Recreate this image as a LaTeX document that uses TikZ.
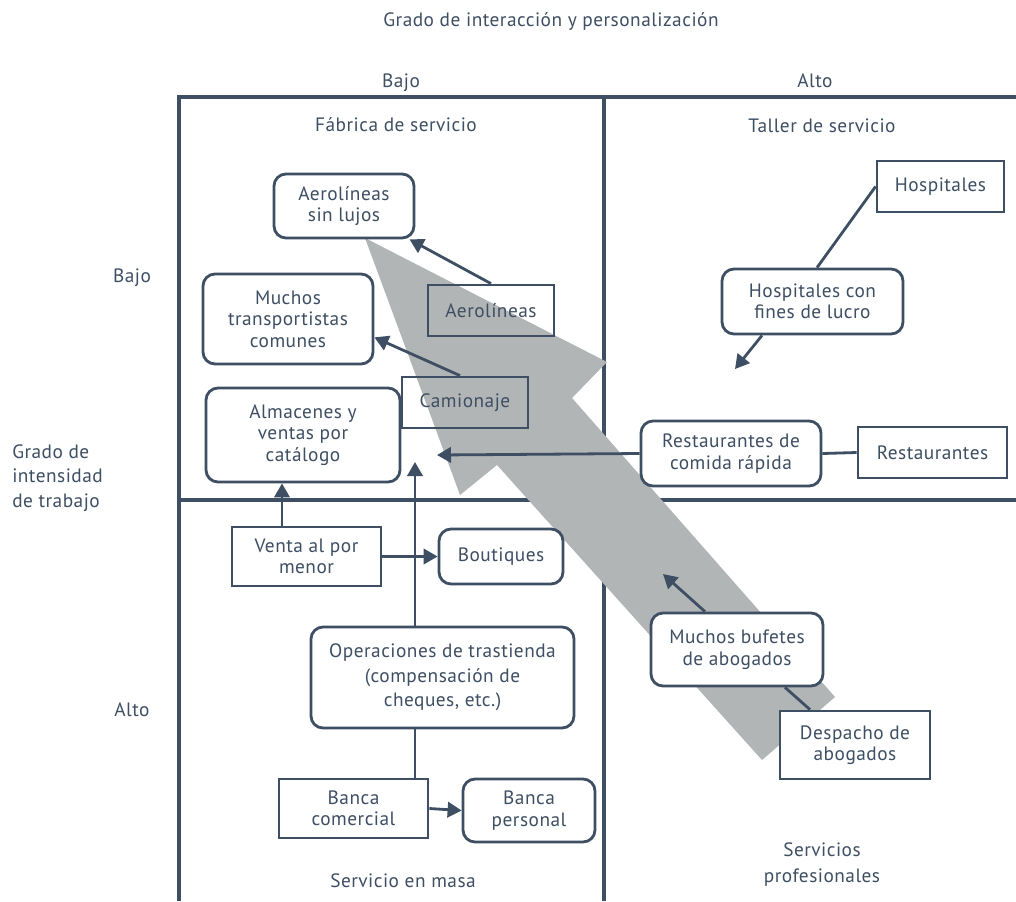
\documentclass[tikz,border=0pt]{standalone}
\usepackage{fontspec}
\setmainfont[LetterSpace=2.5]{PT Sans}
\usetikzlibrary{arrows.meta,calc,positioning}
\definecolor{ink}{RGB}{62,78,99}
\definecolor{arrowgray}{RGB}{178,181,181}

\begin{document}
\begin{tikzpicture}[x=0.75pt,y=-0.75pt,
    every node/.style={text=ink, font=\fontsize{14.5}{16.1}\selectfont},
    lbl/.style={align=center, inner sep=0pt},
    sqbox/.style={draw=ink, line width=2.1pt, align=center, inner sep=0pt, fill=white},
    openbox/.style={sqbox, fill=none},
    rbox/.style={sqbox, rounded corners=9pt},
    frameline/.style={draw=ink, line width=2.3pt},
    plainline/.style={draw=ink, line width=2.1pt},
    arrowline/.style={plainline, -{Triangle[length=10.5pt,width=11.5pt]}}]
\useasboundingbox (0,0) rectangle (1016,901);

% matrix frame
\draw[frameline] (1016,97) -- (179,97) -- (179,901);
\draw[frameline] (604,97) -- (604,901);
\draw[frameline] (179,500) -- (1016,500);

% big grey arrow
\fill[arrowgray] (365,238) -- (607,362) -- (572,398) -- (835,697) -- (762,760) -- (497,465) -- (460,495) -- cycle;

% axis texts
\node[lbl, anchor=base] (title) at (551,26) {Grado de interacción y personalización};
\node[lbl, anchor=base] (colbajo) at (401,87) {Bajo};
\node[lbl, anchor=base] (colalto) at (815,87) {Alto};
\node[lbl, anchor=base] (rowbajo) at (132,282) {Bajo};
\node[lbl, anchor=base] (rowalto) at (132,716) {Alto};
\node[lbl, align=left, anchor=west, font=\fontsize{14.5}{18.4}\selectfont] (intensidad) at (12,478) {Grado de\\intensidad\\de trabajo};

% quadrant names
\node[lbl, anchor=base] (fabrica) at (396,131) {Fábrica de servicio};
\node[lbl, anchor=base] (taller) at (822,132) {Taller de servicio};
\node[lbl, anchor=base] (masa) at (403,887) {Servicio en masa};
\node[lbl, font=\fontsize{14.5}{19.5}\selectfont] (profesionales) at (822,865) {Servicios\\profesionales};

% services
\node[rbox, minimum width=105pt, minimum height=48pt] (sinlujos) at (344,206) {Aerolíneas\\sin lujos};
\node[rbox, minimum width=127.5pt, minimum height=67.5pt] (transp) at (288,319) {Muchos\\transportistas\\comunes};
\node[rbox, minimum width=145.5pt, minimum height=70.5pt] (almacenes) at (303,435) {Almacenes y\\ventas por\\catálogo};
\node[openbox, minimum width=94.5pt, minimum height=38.25pt] (aerolineas) at (491,310.5) {Aerolíneas};
\node[openbox, minimum width=94.5pt, minimum height=38.25pt] (camionaje) at (465,402.5) {Camionaje};
\node[sqbox, minimum width=95.25pt, minimum height=38.25pt] (hospitales) at (940.5,186.5) {Hospitales};
\node[rbox, minimum width=135.75pt, minimum height=48.75pt] (fines) at (812.5,301.5) {Hospitales con\\fines de lucro};
\node[rbox, minimum width=135pt, minimum height=48.75pt] (rapida) at (731,453.5) {Restaurantes de\\comida rápida};
\node[sqbox, minimum width=111.75pt, minimum height=38.25pt] (restaurantes) at (932.5,452.5) {Restaurantes};
\node[sqbox, minimum width=111.75pt, minimum height=44.25pt] (venta) at (306.5,556.5) {Venta al por\\menor};
\node[rbox, minimum width=93pt, minimum height=41.25pt] (boutiques) at (501,556.5) {Boutiques};
\node[rbox, minimum width=197.25pt, minimum height=75.75pt, font=\fontsize{14.5}{18.4}\selectfont] (operaciones) at (442.5,677.5) {Operaciones de trastienda\\(compensación de\\cheques, etc.)};
\node[sqbox, minimum width=111.75pt, minimum height=44.25pt] (comercial) at (353.5,808.5) {Banca\\comercial};
\node[rbox, minimum width=99pt, minimum height=47.25pt] (personal) at (529,810.5) {Banca\\personal};
\node[rbox, minimum width=129pt, minimum height=54.75pt] (bufetes) at (737,649.5) {Muchos bufetes\\de abogados};
\node[sqbox, minimum width=112.5pt, minimum height=51pt] (despacho) at (855,745) {Despacho de\\abogados};

% free ends
\coordinate (almend) at (437,455);
\coordinate (upend) at (415,462);
\coordinate (hospend) at (735,369);
\coordinate (bufend) at (663,574);
\coordinate (ventatop) at ($(venta.north)+(-24.5,0)$);

% connectors
\draw[arrowline] (aerolineas.north) -- (sinlujos.-27);
\draw[arrowline] ($(camionaje.north)+(-5,0)$) -- (transp.-12.6);
\draw[arrowline] (rapida.west) -- (almend);
\draw[plainline] (rapida.east) -- (restaurantes.west);
\draw[plainline] (hospitales.west) -- ($(fines.north)+(4.5,0)$);
\draw[arrowline] ($(fines.south)+(-50.5,0)$) -- (hospend);
\draw[arrowline] (upend |- operaciones.north) -- (upend);
\draw[plainline] (upend |- operaciones.south) -- (upend |- comercial.north);
\draw[arrowline] (ventatop) -- (ventatop |- almacenes.south);
\draw[arrowline] (venta.east) -- (boutiques.west);
\draw[arrowline] (comercial.east) -- (personal.west);
\draw[plainline] ($(despacho.north)+(-45,0)$) -- ($(bufetes.south)+(48,0)$);
\draw[arrowline] ($(bufetes.north)+(-32,0)$) -- (bufend);
\end{tikzpicture}
\end{document}
